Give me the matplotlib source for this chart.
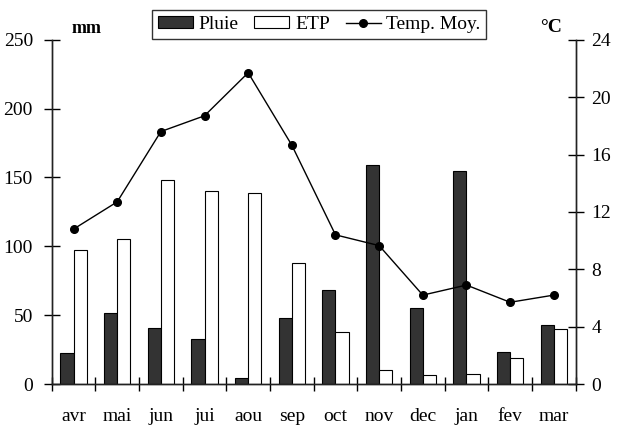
import numpy as np
import matplotlib
matplotlib.use('Agg')
import matplotlib.pyplot as plt
from matplotlib.ticker import FixedLocator

plt.rcParams['font.family'] = ['Liberation Serif', 'DejaVu Serif']

# Données mensuelles
mois = ['avr', 'mai', 'jun', 'jui', 'aou', 'sep', 'oct', 'nov', 'dec', 'jan', 'fev', 'mar']
pluie = [22.5, 51.6, 40.4, 33, 4.6, 48, 68.5, 158.7, 55.2, 155, 23.3, 43]
etp = [97, 105.4, 148.5, 140, 139, 88, 37.5, 10.2, 6.5, 7.3, 18.6, 40]
temp = [10.8, 12.7, 17.6, 18.7, 21.7, 16.65, 10.4, 9.65, 6.2, 6.9, 5.7, 6.2]

x = np.arange(len(mois))
w = 0.3

fig = plt.figure(figsize=(6.2, 4.32), dpi=100)
ax = fig.add_axes([0.0834, 0.111, 0.845, 0.797])
ax2 = ax.twinx()

b1 = ax.bar(x - w/2, pluie, w, color='#333333', edgecolor='black', linewidth=0.8, label='Pluie')
b2 = ax.bar(x + w/2, etp, w, color='white', edgecolor='black', linewidth=0.8, label='ETP')
l1, = ax2.plot(x, temp, 'k-', marker='o', markersize=5.5, linewidth=1, label='Temp. Moy.')

ax.set_xlim(-0.5, len(mois) - 0.5)
ax.set_ylim(0, 250)
ax2.set_ylim(0, 24)
ax.set_yticks(np.arange(0, 251, 50))
ax2.set_yticks(np.arange(0, 25, 4))

# Graduations entre les mois
ax.set_xticks(x)
ax.set_xticklabels(mois)
ax.xaxis.set_minor_locator(FixedLocator(np.arange(-0.5, len(mois), 1)))
ax.tick_params(axis='x', which='major', length=0, pad=17, labelsize=14)
ax.tick_params(axis='x', which='minor', direction='inout', length=10, width=1)
ax.tick_params(axis='y', direction='inout', length=11, width=1, pad=8, labelsize=14)
ax2.tick_params(axis='y', direction='inout', length=11, width=1, pad=6, labelsize=14)

for a in (ax, ax2):
    a.spines['top'].set_visible(False)
    for s in ('left', 'right', 'bottom'):
        a.spines[s].set_linewidth(1)
        a.spines[s].set_color('#222222')

fig.text(0.116, 0.935, 'mm', fontsize=13, fontweight='bold', ha='left', va='center')
fig.text(0.906, 0.937, '°C', fontsize=14, fontweight='bold', ha='right', va='center')

leg = fig.legend([b1, b2, l1], ['Pluie', 'ETP', 'Temp. Moy.'], loc='center',
                 bbox_to_anchor=(0.515, 0.943), ncol=3, fontsize=14, frameon=True,
                 fancybox=False, edgecolor='black', handlelength=1.8, handleheight=0.55,
                 handletextpad=0.3, columnspacing=0.8, borderpad=0.3, borderaxespad=0)
leg.get_frame().set_linewidth(1)

fig.savefig('out.png', dpi=100)
